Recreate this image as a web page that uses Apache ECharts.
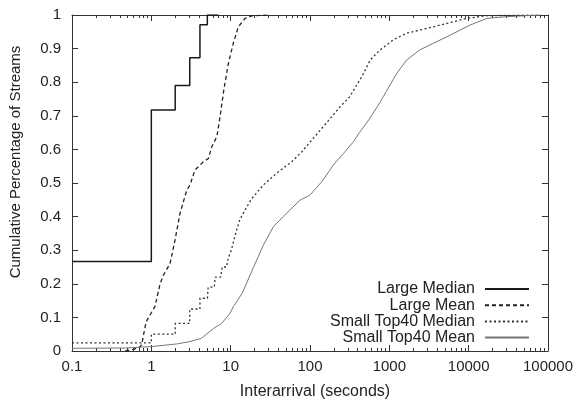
<!DOCTYPE html>
<html><head><meta charset="utf-8">
<script src="https://cdn.jsdelivr.net/npm/echarts@6/dist/echarts.min.js"></script>
<style>html,body{margin:0;padding:0;background:#fff}#c{width:576px;height:403px}</style>
</head><body><div id="c"></div>
<script>
const seriesNames = ['Large Median','Large Mean','Small Top40 Median','Small Top40 Mean'];
const xTitle = 'Interarrival (seconds)';
const yTitle = 'Cumulative Percentage of Streams';
const xMajorTicks = [0.1,1,10,100,1000,10000,100000];
const yTickLabels = ['0','0.1','0.2','0.3','0.4','0.5','0.6','0.7','0.8','0.9','1'];
// Large Median (step CDF, step at end)
const largeMedian = [[0.1,0.266],[1,0.717],[2,0.79],[3.05,0.873],[4.1,0.971],[5.08,1.0],[7,1.0]];
const largeMean = [[0.47,0.0],[0.6,0.005],[0.72,0.012],[0.76,0.02],[0.79,0.043],[0.86,0.087],[0.96,0.107],[1.11,0.132],[1.29,0.2],[1.42,0.226],[1.72,0.26],[1.99,0.33],[2.3,0.41],[2.8,0.479],[3.07,0.494],[3.55,0.539],[4.53,0.563],[5.24,0.573],[5.78,0.608],[6.7,0.638],[7.35,0.697],[8.2,0.777],[9.36,0.856],[10.8,0.916],[12.5,0.965],[15.2,0.99],[19,0.998],[31,1.0]];
const smallMedian = [[0.1,0.024],[1,0.024],[1,0.05],[2,0.05],[2,0.082],[3.05,0.082],[3.05,0.125],[4.1,0.125],[4.1,0.157],[5.1,0.157],[5.2,0.19],[6.2,0.19],[6.4,0.22],[7.5,0.22],[7.8,0.25],[8.9,0.25],[9.3,0.276],[10.2,0.30],[11,0.33],[11.9,0.36],[13,0.39],[15.2,0.42],[18.5,0.454],[25.8,0.494],[38,0.529],[58.8,0.563],[79,0.593],[110,0.633],[163,0.68],[240,0.727],[318,0.757],[388,0.792],[450,0.816],[574,0.866],[764,0.896],[1120,0.926],[1650,0.946],[2960,0.96],[5300,0.975],[9500,0.99],[17000,0.998],[80000,1.0]];
const smallMean = [[0.1,0.008],[0.47,0.009],[1,0.013],[2.09,0.021],[3.07,0.028],[4.3,0.038],[6.06,0.067],[7.7,0.082],[9.8,0.112],[10.8,0.132],[14,0.172],[19.3,0.248],[25.8,0.315],[34.6,0.37],[46,0.40],[56,0.42],[75,0.449],[100,0.464],[141,0.504],[179,0.539],[197,0.554],[265,0.588],[353,0.623],[420,0.65],[560,0.69],[764,0.74],[840,0.757],[1240,0.826],[1650,0.866],[2420,0.896],[3600,0.916],[5300,0.935],[7800,0.955],[10400,0.97],[17000,0.99],[30000,0.995],[80000,1.0]];

const minorTicks = [];
for (let e = -1; e < 5; e++) for (let m = 2; m <= 9; m++) minorTicks.push(+(m * Math.pow(10, e)).toPrecision(3));

const FONT = '"Liberation Sans", Arial, Helvetica, sans-serif';
const AX = '#333';
const TXT = '#222';
const fmt = v => String(+(+v).toPrecision(3));

function xAxisDef(pos, values, len, showLine, showLabel) {
  return {
    type: 'log', logBase: 10, min: 0.1, max: 100000, position: pos,
    axisLine: { show: showLine, lineStyle: { color: AX, width: 1 } },
    axisTick: { show: true, inside: true, length: len, customValues: values, lineStyle: { color: AX, width: 1 } },
    axisLabel: { show: showLabel, customValues: xMajorTicks, formatter: fmt, color: TXT, fontSize: 15, fontFamily: FONT, margin: 8 },
    splitLine: { show: false }, minorTick: { show: false }
  };
}

const legendItems = seriesNames.map((n, i) => ({
  data: [n], orient: 'vertical', align: 'right', right: 46, top: 281 + i * 16.2,
  padding: 0, itemWidth: 44, itemHeight: 16,
  itemStyle: { opacity: 0 },
  textStyle: { color: TXT, fontSize: 16, fontFamily: FONT, padding: [0, 5, 0, 0] },
  selectedMode: false
}));

const option = {
  animation: false,
  grid: { left: 72, right: 28, top: 15, bottom: 52, containLabel: false },
  legend: legendItems,
  graphic: [
    { type: 'text', position: [315, 392], style: { text: xTitle, fill: TXT, font: '16px ' + FONT, textAlign: 'center', textVerticalAlign: 'middle' }, silent: true },
    { type: 'text', rotation: Math.PI / 2, position: [16, 162], style: { text: yTitle, fill: TXT, font: '15px ' + FONT, textAlign: 'center', textVerticalAlign: 'middle' }, silent: true }
  ],
  xAxis: [
    xAxisDef('bottom', xMajorTicks, 6, true, true),
    xAxisDef('bottom', minorTicks, 3, false, false),
    xAxisDef('top', xMajorTicks, 6, true, false),
    xAxisDef('top', minorTicks, 3, false, false)
  ],
  yAxis: [
    { type: 'value', min: 0, max: 1, interval: 0.1, position: 'left',
      axisLine: { show: true, lineStyle: { color: AX, width: 1 } },
      axisTick: { show: true, inside: true, length: 6, lineStyle: { color: AX } },
      axisLabel: { color: TXT, fontSize: 15, fontFamily: FONT, margin: 11, formatter: v => yTickLabels[Math.round(v * 10)] },
      splitLine: { show: false } },
    { type: 'value', min: 0, max: 1, interval: 0.1, position: 'right',
      axisLine: { show: true, lineStyle: { color: AX, width: 1 } },
      axisTick: { show: true, inside: true, length: 6, lineStyle: { color: AX } },
      axisLabel: { show: false }, splitLine: { show: false } }
  ],
  series: [
    { name: seriesNames[0], type: 'line', data: largeMedian, step: 'end', symbol: 'none',
      lineStyle: { color: '#1a1a1a', width: 1.5, type: 'solid' }, itemStyle: { color: '#1a1a1a' } },
    { name: seriesNames[1], type: 'line', data: largeMean, symbol: 'none',
      lineStyle: { color: '#222', width: 1.3, type: [4, 3] }, itemStyle: { color: '#222' } },
    { name: seriesNames[2], type: 'line', data: smallMedian, symbol: 'none',
      lineStyle: { color: '#333', width: 1.3, type: [2, 2.5] }, itemStyle: { color: '#333' } },
    { name: seriesNames[3], type: 'line', data: smallMean, symbol: 'none',
      lineStyle: { color: '#777', width: 1, type: 'solid' }, itemStyle: { color: '#777' } }
  ]
};
const chart = echarts.init(document.getElementById('c'), null, { renderer: 'canvas' });
chart.setOption(option);
</script></body></html>
